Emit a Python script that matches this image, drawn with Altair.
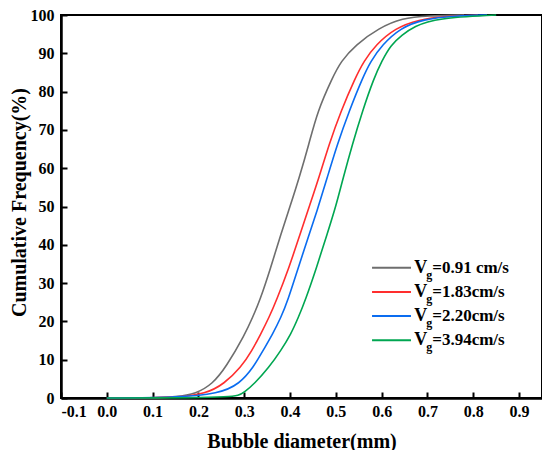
import altair as alt
import pandas as pd

# ---- data ----
series_names = ["0.91 cm/s", "1.83cm/s", "2.20cm/s", "3.94cm/s"]
series_colors = ["#6e6e6e", "#ff2e2e", "#0a6cf0", "#00a651"]

gray_x = [0.0, 0.10, 0.15, 0.195, 0.231, 0.260, 0.302, 0.318, 0.334, 0.358, 0.380, 0.400, 0.420, 0.441, 0.460, 0.492, 0.511, 0.543, 0.594, 0.645, 0.70, 0.78]
gray_y = [0.0, 0.05, 0.3, 1.1, 3.7, 8.0, 16.7, 21.0, 25.4, 34.1, 42.8, 50.0, 57.5, 66.2, 74.9, 83.5, 87.9, 92.2, 96.6, 99.2, 99.8, 100.0]

red_x = [0.0, 0.10, 0.15, 0.217, 0.256, 0.293, 0.317, 0.336, 0.354, 0.370, 0.398, 0.422, 0.442, 0.463, 0.485, 0.511, 0.542, 0.561, 0.587, 0.630, 0.68, 0.74, 0.81]
red_y = [0.0, 0.05, 0.15, 1.1, 3.7, 8.0, 12.4, 16.7, 21.0, 25.4, 34.1, 42.8, 50.0, 57.5, 66.2, 74.9, 83.5, 87.9, 92.2, 96.6, 98.8, 99.7, 100.0]

blue_x = [0.0, 0.15, 0.245, 0.290, 0.320, 0.341, 0.362, 0.380, 0.395, 0.418, 0.442, 0.462, 0.481, 0.503, 0.529, 0.558, 0.576, 0.601, 0.641, 0.69, 0.76, 0.83]
blue_y = [0.0, 0.1, 1.1, 3.7, 8.0, 12.4, 16.7, 21.0, 25.4, 34.1, 42.8, 50.0, 57.5, 66.2, 74.9, 83.5, 87.9, 92.2, 96.6, 98.9, 99.8, 100.0]

green_x = [0.0, 0.20, 0.26, 0.289, 0.300, 0.322, 0.354, 0.380, 0.402, 0.418, 0.433, 0.458, 0.481, 0.500, 0.516, 0.536, 0.558, 0.583, 0.600, 0.620, 0.645, 0.67, 0.72, 0.85]
green_y = [0.0, 0.05, 0.3, 0.65, 1.5, 3.7, 8.0, 12.4, 16.7, 21.0, 25.4, 34.1, 42.8, 50.0, 57.5, 66.2, 74.9, 83.5, 87.9, 92.2, 94.8, 97.0, 99.2, 100.0]

x_ticks = [-0.1, 0.0, 0.1, 0.2, 0.3, 0.4, 0.5, 0.6, 0.7, 0.8, 0.9]
y_ticks = [0, 10, 20, 30, 40, 50, 60, 70, 80, 90, 100]

# ---- build tables ----
rows = []
for name, xs, ys in zip(series_names, [gray_x, red_x, blue_x, green_x], [gray_y, red_y, blue_y, green_y]):
    for xv, yv in zip(xs, ys):
        rows.append({"series": name, "d": xv, "f": yv})
df = pd.DataFrame(rows)

leg = pd.DataFrame({
    "series": series_names,
    "ly": [34.0 - 6.3 * i for i in range(len(series_names))],
    "x0": [0.579] * len(series_names),
    "x1": [0.664] * len(series_names),
    "tx": [0.671] * len(series_names),
    "rest": ["=" + s for s in series_names],
})

W, H = 481, 383
FONT = "Liberation Serif"

x_scale = alt.Scale(domain=[-0.1, 0.95], nice=False, zero=False)
y_scale = alt.Scale(domain=[0, 100], nice=False, zero=False)
color_scale = alt.Scale(domain=series_names, range=series_colors)

lines = alt.Chart(df).mark_line(strokeWidth=1.6, interpolate="basis").encode(
    x=alt.X("d:Q", scale=x_scale,
            axis=alt.Axis(orient="bottom", values=x_ticks, title="Bubble diameter(mm)",
                          labelExpr="replace(format(datum.value, '.1f'), '\u2212', '-')",
                          ticks=False, labelPadding=5, titlePadding=12)),
    y=alt.Y("f:Q", scale=y_scale,
            axis=alt.Axis(orient="left", values=y_ticks, format="d", title="Cumulative Frequency(%)",
                          ticks=False, labelPadding=7, titleX=-36, titleY=187,
                          titleBaseline="alphabetic", titleAlign="center", titleAngle=270)),
    color=alt.Color("series:N", scale=color_scale, legend=None),
)

xt = pd.DataFrame({"t": x_ticks})
yt = pd.DataFrame({"t": y_ticks})

xtick_layer = alt.Chart(xt).mark_point(opacity=0).encode(
    x=alt.X("t:Q", scale=x_scale,
            axis=alt.Axis(orient="top", offset=-H, values=x_ticks, labels=False, domain=False,
                          ticks=True, tickSize=6, tickWidth=2, tickColor="black", title=None)),
)
ytick_layer = alt.Chart(yt).mark_point(opacity=0).encode(
    y=alt.Y("t:Q", scale=y_scale,
            axis=alt.Axis(orient="right", offset=-W, values=y_ticks, labels=False, domain=False,
                          ticks=True, tickSize=6, tickWidth=2, tickColor="black", title=None)),
)

leg_lines = alt.Chart(leg).mark_rule(strokeWidth=2).encode(
    x=alt.X("x0:Q", scale=x_scale, axis=None),
    x2="x1:Q",
    y=alt.Y("ly:Q", scale=y_scale, axis=None),
    color=alt.Color("series:N", scale=color_scale, legend=None),
)
leg_v = alt.Chart(leg).mark_text(align="left", baseline="middle", font=FONT, fontWeight="bold",
                                 fontSize=18, color="black").encode(
    x=alt.X("tx:Q", scale=x_scale, axis=None),
    y=alt.Y("ly:Q", scale=y_scale, axis=None),
    text=alt.value("V"),
)
leg_g = alt.Chart(leg).mark_text(align="left", baseline="middle", font=FONT, fontWeight="bold",
                                 fontSize=12, color="black", dx=12, dy=7).encode(
    x=alt.X("tx:Q", scale=x_scale, axis=None),
    y=alt.Y("ly:Q", scale=y_scale, axis=None),
    text=alt.value("g"),
)
leg_rest = alt.Chart(leg).mark_text(align="left", baseline="middle", font=FONT, fontWeight="bold",
                                    fontSize=17, color="black", dx=18).encode(
    x=alt.X("tx:Q", scale=x_scale, axis=None),
    y=alt.Y("ly:Q", scale=y_scale, axis=None),
    text="rest:N",
)

chart = alt.layer(lines, xtick_layer, ytick_layer, leg_lines, leg_v, leg_g, leg_rest).resolve_axis(
    x="independent", y="independent"
).properties(
    width=W, height=H,
    autosize=alt.AutoSizeParams(type="none"),
    padding={"left": 53, "top": 7, "right": 0, "bottom": 52},
).configure_view(
    stroke="black", strokeWidth=2
).configure_axis(
    grid=False,
    domainColor="black", domainWidth=2.5,
    labelFont=FONT, labelFontWeight="bold", labelFontSize=16, labelColor="black",
    titleFont=FONT, titleFontWeight="bold", titleFontSize=20, titleColor="black",
)

chart.save("out.html", embed_options={"renderer": "svg", "actions": False})
